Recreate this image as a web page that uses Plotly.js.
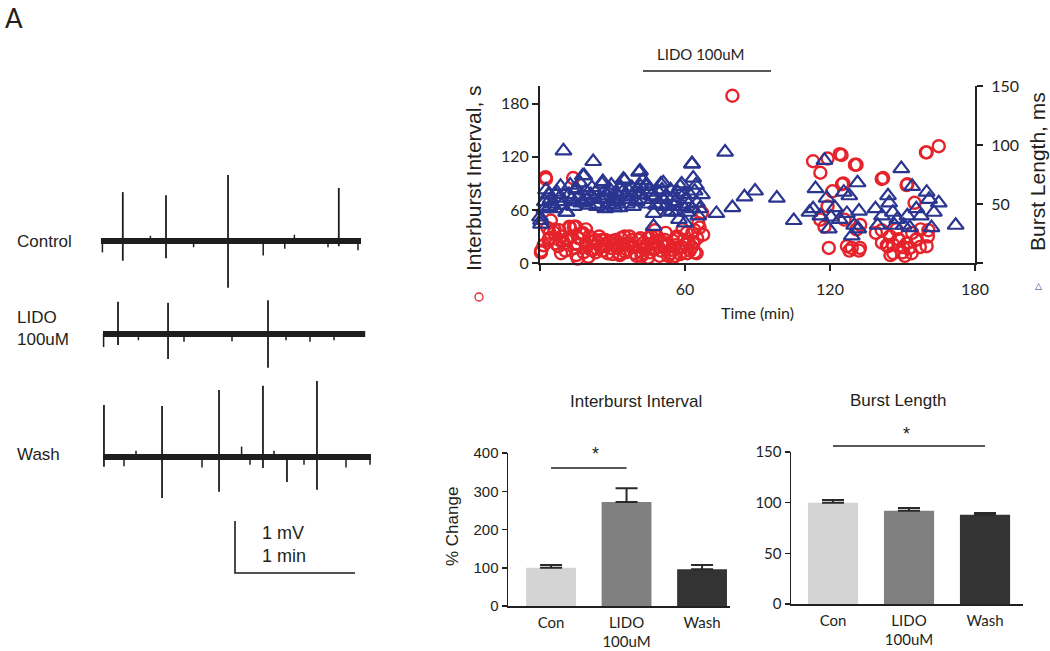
<!DOCTYPE html>
<html><head><meta charset="utf-8">
<script src="https://cdn.plot.ly/plotly-3.0.1.min.js"></script>
<style>html,body{margin:0;padding:0;background:#fff}#chart{width:1050px;height:651px}</style>
</head><body><div id="chart"></div>
<script>
// ---------- Recording traces (time in min, amplitude in mV relative to baseline) ----------
const ctrlSpan = [0.008, 2.175];
const ctrlSpikeT = [0.19, 0.55, 1.067, 1.99];
const ctrlSpikeUp = [0.94, 0.88, 1.27, 1.02];
const ctrlSpikeDown = [0.38, 0.33, 0.90, 0.10];
const ctrlMinorT = [0.02, 0.42, 0.78, 1.36, 1.54, 1.62, 1.9, 2.15];
const ctrlMinorA = [-0.22, 0.1, -0.12, -0.28, -0.15, 0.12, -0.12, -0.18];

const lidoSpan = [0.025, 2.21];
const lidoSpikeT = [0.15, 0.567, 1.4];
const lidoSpikeUp = [0.62, 0.60, 0.65];
const lidoSpikeDown = [0.21, 0.48, 0.65];
const lidoMinorT = [0.03, 0.32, 0.7, 1.1, 1.55, 1.75, 1.95];
const lidoMinorA = [-0.25, -0.12, -0.15, -0.14, -0.12, -0.15, -0.12];

const washSpan = [0.025, 2.258];
const washSpikeT = [0.033, 0.517, 0.992, 1.358, 1.558, 1.808];
const washSpikeUp = [1.0, 0.98, 1.29, 1.37, 0.05, 1.46];
const washSpikeDown = [0.19, 0.79, 0.67, 0.21, 0.48, 0.63];
const washMinorT = [0.2, 0.3, 0.85, 1.18, 1.25, 1.45, 1.7, 2.05, 2.25];
const washMinorA = [-0.18, 0.12, -0.2, 0.2, -0.15, 0.12, -0.15, -0.2, -0.15];

const traceLabels = ['Control', 'LIDO<br>100uM', 'Wash'];
const scaleBarMV = 1, scaleBarMin = 1;

// ---------- Time course scatter ----------
const ibiTime = [0.4,0.5,2.3,2.5,3.5,3.9,4,4.5,5.9,6,8,8,8.7,7.6,9.4,10,11,11.5,12.1,12.4,13.7,14,14.2,14.9,15,15.6,15.6,17,17.7,19,19.5,20,20.4,21,22,23,24,25,25.7,27,27.4,28,29.4,30,31.4,32,32.8,33,34.5,35,36,38,38,39.3,40,40.7,41,42.5,43,43.4,44.7,45,46.2,47,47.6,48,49,49.5,51,51.7,52,54,54.5,55,55,56,56.6,57.5,58.6,59,60,60.7,61,62.8,63,64,64,64.8,65.5,67,67.5,
  1.5,3,6.5,9,10.5,13,16,18,19,21.5,23,24.5,26,28.5,30,31,33.5,35.5,36.5,37,39,41.5,42,44,45.5,46.5,48.5,50,50.5,52.5,53,56,57,58,59.5,61.5,62,63.5,65,66,
  79.6,113,116,119,124,124.8,131,130.3,125,125.5,121,119,117.7,116,119.5,127,128,132,131,126,129,132.4,132.5,
  142,141.4,152,151.7,160,159.7,165,155,139,141.5,144,145,148.5,150,153,155.5,157.5,160,160.5,147.5,146,154,151,141.4,144.8,148.3,151.7,155.9,143.5,146.2,150.3,153.8,157.2,160.7];
const ibiValue = [12,14,97,95,26,28,34,48,34,38,26,37,11,19,25,22,26,28,41,40,96,41,17,41,9,21,5,33,34,22,19,7,30,15,15,26,23,18,26,26,19,11,17,25,26,17,11,9,21,30,15,18,26,11,8,26,19,11,23,15,6,29,30,15,37,25,18,8,19,26,34,11,15,25,6,8,30,17,18,38,21,34,11,18,34,37,12,11,45,57,32,
  20,40,22,30,14,30,28,12,38,24,12,30,14,24,10,20,28,12,22,30,18,28,8,20,12,22,30,14,24,20,8,20,28,10,26,24,14,22,28,40,
  189,115,102,118,123,122,111,111,89,90,81,64,41,49,17,19,14,14,38,49,17,17,43,
  96,95,89,88,125,125,132,68,34,23,19,9,26,12,17,26,38,19,30,38,21,34,8,37,30,27,22,27,20,11,18,11,18,37];

const blTime = [0,0.4,0.4,1.8,2,3.5,3.9,4.4,5,6,7,8,9,9.7,10.8,11,12,13,14.9,15,16,17,17.7,18,18.3,19,20.4,21,22,22.5,23,24,25,25.7,26,26,27,28,29,30,30.8,31,31.4,32,33,34,34.5,35,35,36,37,38,39,40,41,41.4,41.6,42,43,44,44,45,46,47,47,48,49,50,51,51,52,53,54,54.5,55,56,56.6,57.5,58,58.6,59,60,60,61,62,62.8,63,63,63.4,64,65,65.5,67,
  2.5,4,6.5,8.5,10,12.5,14,16.5,19.5,21.5,23.5,26.5,28.5,29.5,31.8,33.5,36.5,38.5,40.5,42.5,45.5,47.5,49.5,50.5,52.5,55.5,57,59.5,61.5,64.5,66,
  73,76.6,79.6,84.6,89,98,105,111.5,113,114,116,117.7,118.6,119.5,120.4,122,124,125.7,127,128,129,130,131.4,132,131.7,
  138.8,139.7,141.5,144,144.5,146,146.7,147.8,149.5,150.5,152,153,154,155.7,157.6,160,161,162,163,165,172];
const blValue = [39,33,36,46,52,58,58,54,50,46,60,55,49,95,43,43,58,54,62,63,56,51,74,52,74,61,49,58,86,54,60,50,54,67,69,55,46,57,62,49,47,54,60,52,47,60,71,56,70,50,54,64,60,52,77,78,65,58,54,65,67,50,57,42,31,49,60,67,54,68,48,43,62,44,56,52,43,37,65,67,48,54,34,43,58,84,84,46,72,61,51,40,58,
  62,48,58,65,52,66,48,68,54,64,48,60,50,66,58,64,62,48,58,70,62,56,50,62,56,48,60,58,50,66,46,
  42,94,47,56,61,55,36,43,46,63,40,87,55,29,39,47,37,60,42,57,23,32,68,44,29,
  46,32,40,57,51,43,32,37,80,32,40,30,65,46,40,60,54,30,43,51,32];

// ---------- Summary bars ----------
const barCategories = ['Con', 'LIDO<br>100uM', 'Wash'];
const ibiPct = [100, 272, 96];
const ibiErr = [7, 36, 11];
const blPct = [100, 92, 88];
const blErr = [2.6, 2.8, 1.9];
const barColors = ['#d4d4d4', '#7f807f', '#333333'];

// ---------- helpers (layout positions in page pixels) ----------
const W = 1050, H = 651;
const px = x => x / W;
const py = y => 1 - y / H;
const gill = 'Lato, "Open Sans", sans-serif';
const arial = '"Liberation Sans", Arial, sans-serif';
const ink = '#231f20';

// trace panel geometry: 120 px per min, 52 px per mV
const recBase = [6.635, 4.846, 2.481]; // baseline offsets (mV) in panel

function recTraces(span, sT, up, down, mT, mA, base) {
  const out = [];
  out.push({x: span, y: [base, base], xaxis: 'x2', yaxis: 'y3', mode: 'lines',
    line: {color: '#1e1e1e', width: 6}, hoverinfo: 'skip', showlegend: false});
  const xs = [], ys = [];
  sT.forEach((t, i) => { xs.push(t, t, null); ys.push(base + up[i], base - down[i], null); });
  out.push({x: xs, y: ys, xaxis: 'x2', yaxis: 'y3', mode: 'lines',
    line: {color: '#1e1e1e', width: 1.8}, hoverinfo: 'skip', showlegend: false});
  const mx = [], my = [];
  mT.forEach((t, i) => { mx.push(t, t, null); my.push(base, base + mA[i], null); });
  out.push({x: mx, y: my, xaxis: 'x2', yaxis: 'y3', mode: 'lines',
    line: {color: '#1e1e1e', width: 1.5}, hoverinfo: 'skip', showlegend: false});
  return out;
}

const data = [];
data.push(...recTraces(ctrlSpan, ctrlSpikeT, ctrlSpikeUp, ctrlSpikeDown, ctrlMinorT, ctrlMinorA, recBase[0]));
data.push(...recTraces(lidoSpan, lidoSpikeT, lidoSpikeUp, lidoSpikeDown, lidoMinorT, lidoMinorA, recBase[1]));
data.push(...recTraces(washSpan, washSpikeT, washSpikeUp, washSpikeDown, washMinorT, washMinorA, recBase[2]));
// scale bar
const sbT0 = 1.125, sbV0 = 0.25;
data.push({x: [sbT0, sbT0, sbT0 + scaleBarMin], y: [sbV0 + scaleBarMV, sbV0, sbV0],
  xaxis: 'x2', yaxis: 'y3', mode: 'lines', line: {color: '#1e1e1e', width: 1.6},
  hoverinfo: 'skip', showlegend: false});

// scatter
data.push({x: ibiTime, y: ibiValue, xaxis: 'x', yaxis: 'y', mode: 'markers', cliponaxis: false,
  marker: {symbol: 'circle-open', size: 12, color: '#e5232b', line: {width: 2.4, color: '#e5232b'}},
  showlegend: false});
data.push({x: blTime, y: blValue, xaxis: 'x', yaxis: 'y2', mode: 'markers', cliponaxis: false,
  marker: {symbol: 'triangle-up-open', size: 14, color: '#2a3590', line: {width: 2.2, color: '#2a3590'}},
  showlegend: false});

// bars
const errStyle = arr => ({type: 'data', array: arr, arrayminus: arr.map(() => 0), symmetric: false,
  color: '#2a2a2a', thickness: 2, width: 11});
data.push({type: 'bar', x: barCategories, y: ibiPct, xaxis: 'x3', yaxis: 'y4', width: 0.66,
  marker: {color: barColors}, error_y: errStyle(ibiErr), showlegend: false});
data.push({type: 'bar', x: barCategories, y: blPct, xaxis: 'x4', yaxis: 'y5', width: 0.66,
  marker: {color: barColors}, error_y: errStyle(blErr), showlegend: false});

const axLine = {showline: true, linecolor: ink, showgrid: false, zeroline: false};

function note(text, x, y, opts) {
  return Object.assign({text: text, x: px(x), y: py(y), xref: 'paper', yref: 'paper',
    xanchor: 'center', yanchor: 'middle', showarrow: false,
    font: {family: arial, size: 17, color: ink}}, opts || {});
}

const layout = {
  width: W, height: H, margin: {l: 0, r: 0, t: 0, b: 0},
  paper_bgcolor: '#fff', plot_bgcolor: 'rgba(0,0,0,0)',
  font: {family: arial, color: ink},
  xaxis: Object.assign({}, axLine, {domain: [px(540), px(975)], range: [0, 180], anchor: 'y',
    linewidth: 2, ticks: 'outside', ticklen: 6, tickwidth: 2, tickcolor: ink,
    tickvals: [0, 60, 120, 180], ticktext: ['', '60', '120', '180'], ticklabelstandoff: 5,
    tickfont: {family: gill, size: 16, color: ink}}),
  yaxis: Object.assign({}, axLine, {domain: [py(263), py(86)], range: [0, 200], anchor: 'x',
    linewidth: 2, ticks: 'outside', ticklen: 6, tickwidth: 2, tickcolor: ink,
    tickvals: [0, 60, 120, 180], tickfont: {family: gill, size: 16, color: ink}}),
  yaxis2: Object.assign({}, axLine, {overlaying: 'y', side: 'right', anchor: 'x', range: [0, 150],
    linewidth: 2, ticks: 'outside', ticklen: 6, tickwidth: 2, tickcolor: ink,
    tickvals: [0, 50, 100, 150], ticktext: ['', '50', '100', '150'], ticklabelstandoff: 5,
    tickfont: {family: gill, size: 16, color: ink}}),
  xaxis2: {domain: [px(100), px(380)], range: [0, 280 / 120], anchor: 'y3', visible: false, fixedrange: true},
  yaxis3: {domain: [py(586), py(170)], range: [0, 8], anchor: 'x2', visible: false, fixedrange: true},
  xaxis3: Object.assign({}, axLine, {domain: [px(508), px(730)], range: [-0.57, 2.37], anchor: 'y4',
    linewidth: 1.5, ticks: '', ticklabelstandoff: 2, tickfont: {family: gill, size: 15, color: ink}}),
  yaxis4: Object.assign({}, axLine, {domain: [py(606), py(453)], range: [0, 400], anchor: 'x3',
    linewidth: 1.5, ticks: 'outside', ticklen: 5, tickwidth: 1.5, tickcolor: ink, dtick: 100,
    tickfont: {family: arial, size: 15, color: ink}}),
  xaxis4: Object.assign({}, axLine, {domain: [px(791), px(1023)], range: [-0.553, 2.5], anchor: 'y5',
    linewidth: 1.5, ticks: '', ticklabelstandoff: 2, tickfont: {family: gill, size: 15, color: ink}}),
  yaxis5: Object.assign({}, axLine, {domain: [py(604), py(452)], range: [0, 150], anchor: 'x4',
    linewidth: 1.5, ticks: 'outside', ticklen: 5, tickwidth: 1.5, tickcolor: ink, dtick: 50,
    tickfont: {family: gill, size: 15, color: ink}}),
  shapes: [
    // LIDO application bar above time course
    {type: 'line', xref: 'x', yref: 'paper', x0: 42.6, x1: 95.6, y0: py(71), y1: py(71),
      line: {color: ink, width: 1.5}},
    // significance lines
    {type: 'line', xref: 'x3', yref: 'paper', x0: 0, x1: 1, y0: py(468), y1: py(468),
      line: {color: ink, width: 1.5}},
    {type: 'line', xref: 'x4', yref: 'paper', x0: 0, x1: 2, y0: py(446), y1: py(446),
      line: {color: ink, width: 1.5}},
    // small red circle key
    {type: 'circle', xref: 'paper', yref: 'paper', x0: px(475), x1: px(483), y0: py(301), y1: py(293),
      line: {color: '#e5232b', width: 1.3}}
  ],
  annotations: [
    note('A', 14, 18, {font: {family: gill, size: 26, color: ink}}),
    note(traceLabels[0], 15, 241, {xanchor: 'left'}),
    note(traceLabels[1], 15, 328, {xanchor: 'left', align: 'left'}),
    note(traceLabels[2], 15, 454, {xanchor: 'left'}),
    note(scaleBarMV + ' mV', 260, 533, {xanchor: 'left', font: {family: arial, size: 18, color: ink}}),
    note(scaleBarMin + ' min', 260, 556, {xanchor: 'left', font: {family: arial, size: 18, color: ink}}),
    note('LIDO 100uM', 700, 54, {font: {family: gill, size: 15, color: ink}}),
    note('Interburst Interval, s', 473, 178, {textangle: -90, font: {family: arial, size: 21, color: ink}}),
    note('Burst Length, ms', 1037, 172, {textangle: -90, font: {family: arial, size: 21, color: ink}}),
    note('\u25B3', 1038, 286, {font: {family: 'DejaVu Sans', size: 9, color: '#2a3590'}}),
    note('Time (min)', 757, 313, {font: {family: gill, size: 16, color: ink}}),
    note('Interburst Interval', 636, 401),
    note('Burst Length', 898, 400),
    note('% Change', 452, 527, {textangle: -90}),
    note('*', 595, 454, {font: {family: arial, size: 18, color: ink}}),
    note('*', 906, 434, {font: {family: arial, size: 18, color: ink}})
  ]
};

Plotly.newPlot('chart', data, layout, {staticPlot: true, displayModeBar: false});
</script></body></html>
